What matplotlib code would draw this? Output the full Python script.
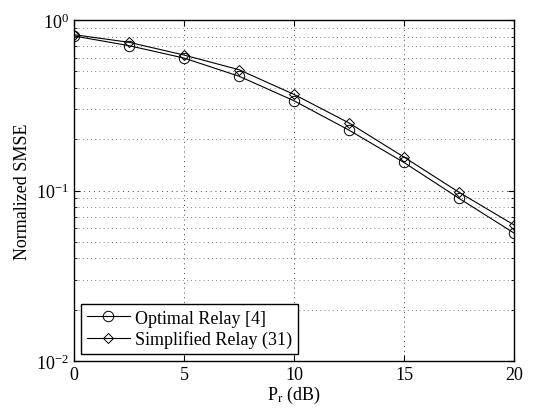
import numpy as np
import matplotlib
matplotlib.use("Agg")
import matplotlib.pyplot as plt
from matplotlib.ticker import LogLocator, NullFormatter

# -------------------------
# Data
# -------------------------

pr_db = [0, 2.5, 5, 7.5, 10, 12.5, 15, 17.5, 20]

smse_optimal = [0.806, 0.707, 0.598, 0.468, 0.336, 0.226, 0.146, 0.090, 0.0563]
smse_simplified = [0.820, 0.740, 0.623, 0.511, 0.366, 0.249, 0.157, 0.0976, 0.0628]

x_ticks = [0, 5, 10, 15, 20]

# -------------------------
# Style
# -------------------------

plt.rcParams["font.family"] = ["Liberation Serif", "DejaVu Serif"]
plt.rcParams["mathtext.fontset"] = "stix"
plt.rcParams["font.size"] = 12

fig = plt.figure(figsize=(5.33, 4.10), dpi=100)
ax = fig.add_axes([74 / 533, 1 - 362 / 410, 440 / 533, 341 / 410])

ax.semilogy(
    pr_db, smse_optimal,
    color="black", lw=0.8, marker="o", ms=7.5,
    mfc="none", mec="black", mew=0.7,
    label="Optimal Relay [4]"
)
ax.semilogy(
    pr_db, smse_simplified,
    color="black", lw=0.8, marker="D", ms=5.5,
    mfc="none", mec="black", mew=0.7,
    label="Simplified Relay (31)"
)

ax.set_xlim(0, 20)
ax.set_ylim(1e-2, 1e0)
ax.set_xticks(x_ticks)
ax.yaxis.set_major_locator(LogLocator(base=10, numticks=5))
ax.yaxis.set_minor_locator(LogLocator(base=10, subs=np.arange(2, 10), numticks=20))
ax.yaxis.set_minor_formatter(NullFormatter())

ax.tick_params(which="both", direction="in", top=True, right=True, labelsize=13)
ax.tick_params(which="major", length=4)
ax.tick_params(which="minor", length=2)

ax.grid(True, which="major", ls=(0, (1, 4)), color="0.25", lw=0.7)
ax.grid(True, which="minor", axis="y", ls=(0, (1, 4)), color="0.35", lw=0.6)

for s in ax.spines.values():
    s.set_linewidth(1.0)

ax.set_xlabel(r"P$_\mathrm{r}$ (dB)", fontsize=13, labelpad=1)
ax.set_ylabel("Normalized SMSE", fontsize=13, labelpad=4)

leg = ax.legend(
    loc="lower left", fontsize=13, fancybox=False, framealpha=1,
    edgecolor="black", borderpad=0.3, handlelength=2.4,
    handletextpad=0.3, labelspacing=0.2, borderaxespad=0.4
)
leg.get_frame().set_linewidth(1.0)

fig.savefig("out.png", dpi=100)
